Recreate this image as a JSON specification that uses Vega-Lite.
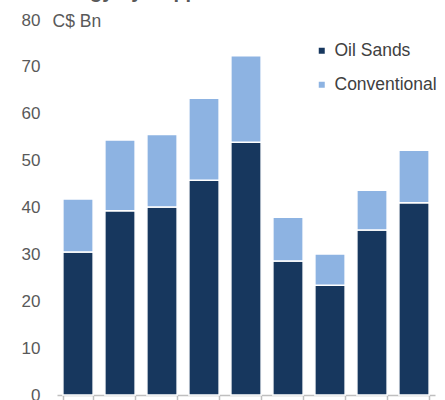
{
  "$schema": "https://vega.github.io/schema/vega-lite/v6.json",
  "width": 378,
  "height": 375,
  "autosize": {"type": "none"},
  "padding": {"left": 57, "top": 20, "right": 10, "bottom": 5},
  "background": "white",
  "title": {
    "text": "Canadian Energy by Supplier Investment",
    "font": "Liberation Sans",
    "fontSize": 20,
    "fontWeight": "bold",
    "color": "#595959",
    "anchor": "start",
    "frame": "group",
    "baseline": "alphabetic",
    "offset": 0,
    "dx": -107,
    "dy": 7
  },
  "config": {
    "view": {"stroke": null},
    "font": "Liberation Sans"
  },
  "data": {
    "values": [
      {"year": "2010", "type": "Oil Sands", "value": 30.5},
      {"year": "2010", "type": "Conventional", "value": 11.3},
      {"year": "2011", "type": "Oil Sands", "value": 39.3},
      {"year": "2011", "type": "Conventional", "value": 15.1},
      {"year": "2012", "type": "Oil Sands", "value": 40.1},
      {"year": "2012", "type": "Conventional", "value": 15.5},
      {"year": "2013", "type": "Oil Sands", "value": 45.8},
      {"year": "2013", "type": "Conventional", "value": 17.5},
      {"year": "2014", "type": "Oil Sands", "value": 53.9},
      {"year": "2014", "type": "Conventional", "value": 18.5},
      {"year": "2015", "type": "Oil Sands", "value": 28.6},
      {"year": "2015", "type": "Conventional", "value": 9.3},
      {"year": "2016", "type": "Oil Sands", "value": 23.4},
      {"year": "2016", "type": "Conventional", "value": 6.7},
      {"year": "2017", "type": "Oil Sands", "value": 35.2},
      {"year": "2017", "type": "Conventional", "value": 8.5},
      {"year": "2018", "type": "Oil Sands", "value": 41.0},
      {"year": "2018", "type": "Conventional", "value": 11.2}
    ]
  },
  "mark": {"type": "bar", "stroke": "white", "strokeWidth": 1.5},
  "encoding": {
    "x": {
      "field": "year",
      "type": "nominal",
      "scale": {"paddingInner": 0.28, "paddingOuter": 0.14},
      "axis": {
        "title": null,
        "domainColor": "#BFBFBF",
        "domainWidth": 1.5,
        "tickColor": "#BFBFBF",
        "tickWidth": 1.5,
        "tickSize": 8,
        "tickBand": "extent",
        "labelAngle": 0,
        "labelFontSize": 17,
        "labelColor": "#595959",
        "labelPadding": 12
      }
    },
    "y": {
      "field": "value",
      "type": "quantitative",
      "aggregate": "sum",
      "stack": "zero",
      "scale": {"domain": [0, 80]},
      "axis": {
        "values": [0, 10, 20, 30, 40, 50, 60, 70, 80],
        "grid": false,
        "domain": false,
        "ticks": false,
        "labelFontSize": 17,
        "labelColor": "#595959",
        "labelPadding": 17,
        "title": "C$ Bn",
        "titleAngle": 0,
        "titleAlign": "left",
        "titleBaseline": "middle",
        "titleX": -5,
        "titleY": 1,
        "titleFontSize": 17.5,
        "titleFontWeight": "normal",
        "titleColor": "#595959"
      }
    },
    "color": {
      "field": "type",
      "type": "nominal",
      "sort": ["Oil Sands", "Conventional"],
      "scale": {"domain": ["Oil Sands", "Conventional"], "range": ["#17375E", "#8DB3E2"]},
      "legend": {
        "title": null,
        "orient": "none",
        "legendX": 256,
        "legendY": 22,
        "symbolType": "square",
        "symbolSize": 36,
        "symbolStrokeWidth": 0,
        "labelFontSize": 17.5,
        "labelColor": "#404040",
        "labelOffset": 4,
        "rowPadding": 15
      }
    }
  }
}
